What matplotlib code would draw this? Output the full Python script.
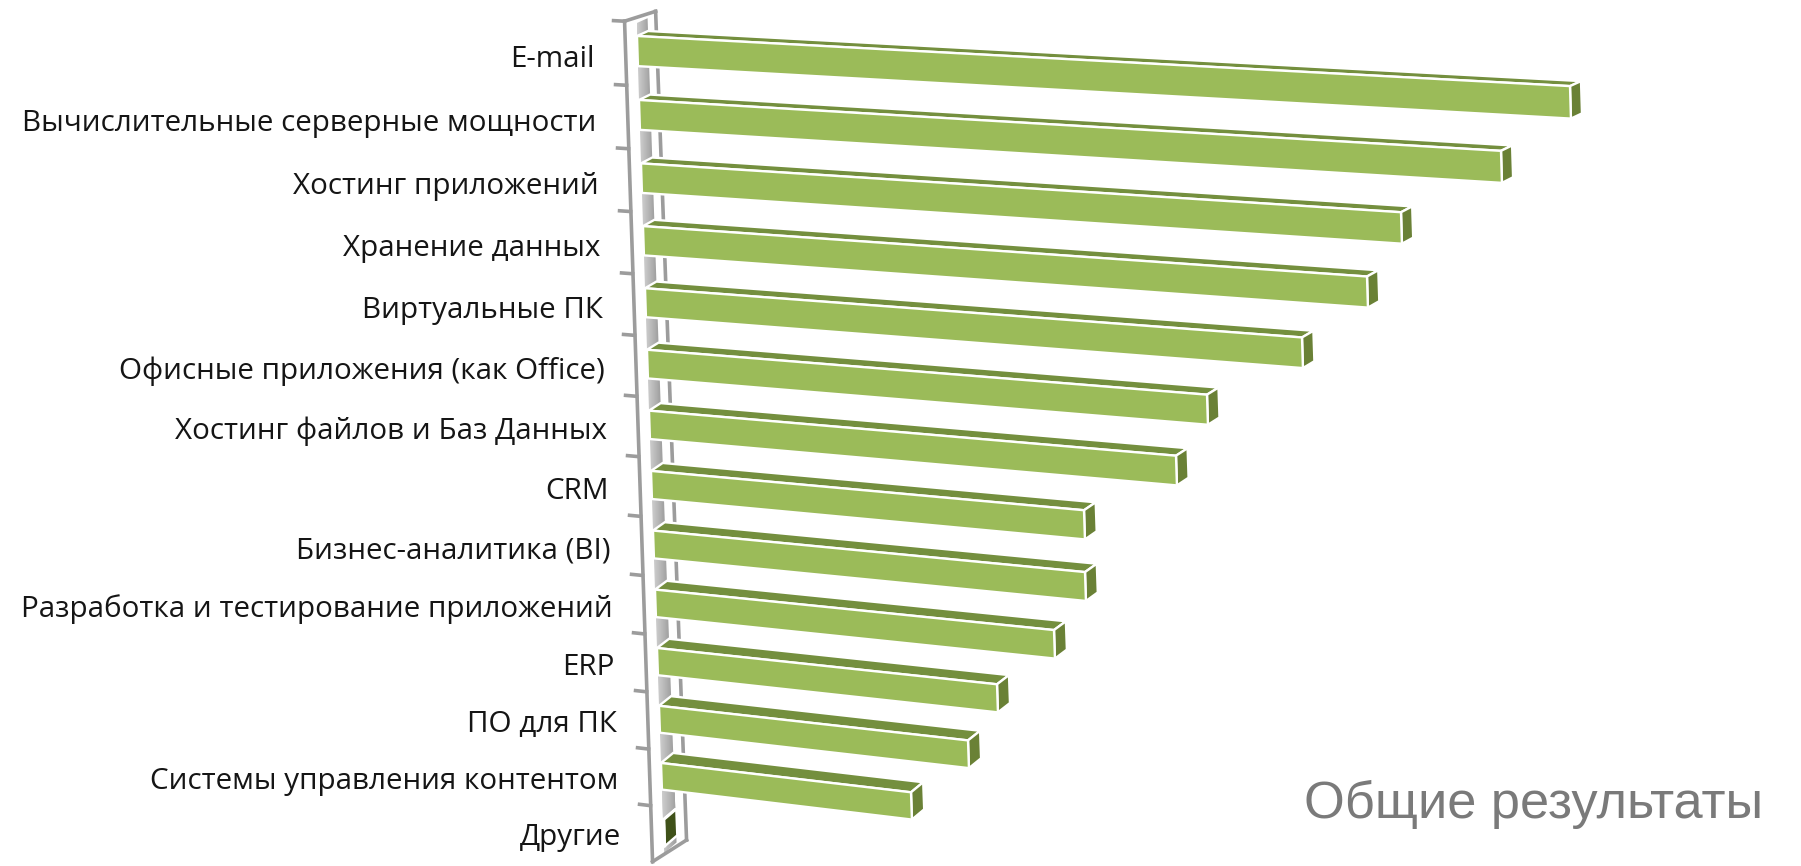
import numpy as np
import matplotlib
matplotlib.use("Agg")
import matplotlib.pyplot as plt
from matplotlib.patches import Polygon

# --- данные (значения примерные) ---
categories = ["E-mail", "Вычислительные серверные мощности", "Хостинг приложений",
              "Хранение данных", "Виртуальные ПК", "Офисные приложения (как Office)",
              "Хостинг файлов и Баз Данных", "CRM", "Бизнес-аналитика (BI)",
              "Разработка и тестирование приложений", "ERP", "ПО для ПК",
              "Системы управления контентом", "Другие"]
values = [93.3, 86.2, 76.0, 72.4, 65.7, 56.0, 52.7, 43.3, 43.2, 39.9, 34.0, 30.9, 25.0, 0.1]
title = "Общие результаты"

W, H = 1801, 866
BAR_H = 0.47
GREEN, TOP, SIDE = "#9bbb59", "#748f3e", "#6a8136"
DARK = "#3f5119"
GRAY = "#9c9c9c"


# --- псевдо-3D проекция: значение, ряд, глубина -> пиксели ---
def project(v, r, d=0.0):
    x = 637 + 2.0 * r + 10.0 * v + d * (11 + 0.1 * r)
    y = 36 + 64.3 * r - 0.31 * r ** 2 + (0.0537 + 0.0053 * r) * 10.0 * v - d * (5 + 0.42 * r)
    return x, y


def face(ax, pts, color, z, edge="white"):
    ax.add_patch(Polygon([project(*p) for p in pts], closed=True, facecolor=color,
                         edgecolor=edge, linewidth=1.7, zorder=z))


def panel(ax, r0, r1):
    # серые панели стенки с градиентом
    pts = [project(0, r0), project(0, r0, 1), project(0, r1, 1), project(0, r1)]
    xs = [p[0] for p in pts]
    ys = [p[1] for p in pts]
    grad = np.tile(np.linspace(0.80, 0.62, 16), (16, 1))
    im = ax.imshow(grad, cmap="gray", vmin=0, vmax=1, aspect="auto", zorder=1,
                   extent=(min(xs), max(xs), max(ys), min(ys)))
    clip = Polygon(pts, closed=True, transform=ax.transData)
    im.set_clip_path(clip)


fig = plt.figure(figsize=(W / 100, H / 100), dpi=100)
ax = fig.add_axes([0, 0, 1, 1])

# стенка и ось
panel(ax, -0.2, 0.0)
for r in range(len(values) - 1):
    panel(ax, r + BAR_H - 0.05, r + 1)
panel(ax, 12 + BAR_H - 0.05, 13.6)

rr = np.array([-0.22, 13.78])
ax.plot(*project(-1.2, rr), color=GRAY, lw=2.6, zorder=2)
ax.plot(*project(-0.4, rr, 2.1), color=GRAY, lw=2.6, zorder=0.5)
for end in rr:
    ax.plot(*zip(project(-1.2, end), project(-0.4, end, 2.1)), color=GRAY, lw=2.6, zorder=2)
for r in np.arange(len(values)) - 0.22:
    ax.plot(*zip(project(-2.3, r), project(-1.2, r)), color=GRAY, lw=2.6, zorder=2)

# столбцы
for i, (name, v) in enumerate(zip(categories, values)):
    small = v < 1
    front_col = DARK if small else GREEN
    face(ax, [(0, i, 0), (0, i, 1), (v, i, 1), (v, i, 0)], DARK if small else TOP, 3)
    face(ax, [(v, i, 0), (v, i, 1), (v, i + BAR_H, 1), (v, i + BAR_H, 0)], DARK if small else SIDE, 3)
    face(ax, [(0, i, 0), (v, i, 0), (v, i + BAR_H, 0), (0, i + BAR_H, 0)], front_col, 4)
    x, y = project(-4.3, i + 0.41)
    ax.text(x, y, name, ha="right", va="center", fontsize=21.3, color="#151515",
            family="Open Sans")

ax.text(1763, 804, title, ha="right", va="center", fontsize=37.7, color="#7a7a7a",
        family="Liberation Sans")

ax.set_xlim(0, W)
ax.set_ylim(H, 0)
ax.axis("off")
fig.savefig("out.png", dpi=100)
